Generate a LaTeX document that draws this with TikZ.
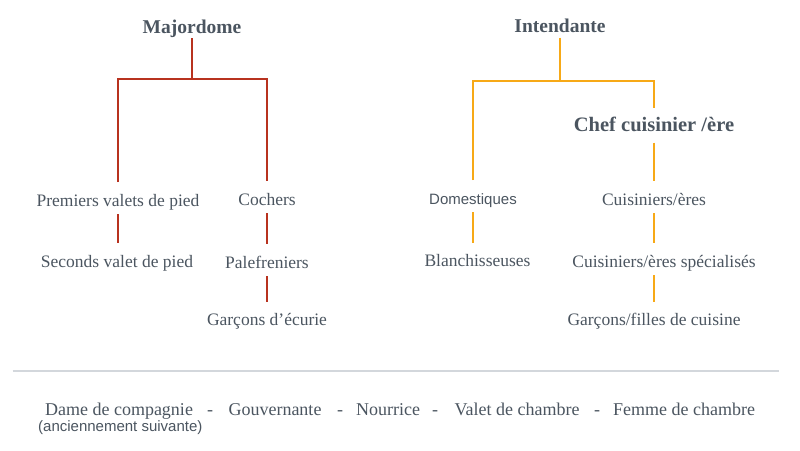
\documentclass[tikz,border=0pt]{standalone}
\usepackage{fontspec}
\setmainfont{Liberation Serif}
\newfontfamily\sansf{Liberation Sans}
\definecolor{txt}{HTML}{4B5560}
\definecolor{redl}{HTML}{B8321F}
\definecolor{orl}{HTML}{F7A917}
\definecolor{sepc}{HTML}{D3D7DC}
\begin{document}
\begin{tikzpicture}[x=1pt,y=-1pt,
  lbl/.style={inner sep=0pt, outer sep=0pt, anchor=base, text=txt,
    text height=24pt, text depth=8pt, font=\fontsize{17.5}{20}\selectfont},
  head/.style={lbl, text depth=5pt, font=\bfseries\fontsize{19.5}{22}\selectfont},
  sanslbl/.style={lbl, font=\sansf\fontsize{15}{18}\selectfont},
  bot/.style={inner sep=0pt, anchor=base, text=txt, font=\fontsize{18}{21}\selectfont},
  redline/.style={draw=redl, line width=2pt},
  orline/.style={draw=orl, line width=2pt}]
\useasboundingbox (0,0) rectangle (800,450);
\fill[white] (0,0) rectangle (800,450);

% left tree
\node[head] (maj) at (192,33.3) {Majordome};
\node[lbl] (pv) at (118,206) {Premiers valets de pied};
\node[lbl] (sv) at (117,267.3) {Seconds valet de pied};
\node[lbl] (co) at (267,205) {Cochers};
\node[lbl] (pa) at (267,268) {Palefreniers};
\node[lbl] (ge) at (267,325.7) {Garçons d’écurie};
\coordinate (mj) at (192,78.7);
\draw[redline] (maj.south) -- (mj);
\draw[redline] (pv.north) |- (mj) -| (co.north);
\draw[redline] (pv.south) -- (pv.south |- sv.north);
\draw[redline] (co.south) -- (pa.north);
\draw[redline] (pa.south) -- (ge.north);

% right tree
\node[head] (int) at (560,32.7) {Intendante};
\node[head, text depth=11pt, font=\bfseries\fontsize{20.5}{23}\selectfont] (ch) at (654,131.7) {Chef cuisinier /ère};
\node[sanslbl] (dom) at (473,204) {Domestiques};
\node[lbl] (bla) at (477.5,266.7) {Blanchisseuses};
\node[lbl] (cu) at (654,205) {Cuisiniers/ères};
\node[lbl] (spe) at (664,267) {Cuisiniers/ères spécialisés};
\node[lbl] (gf) at (654,325.7) {Garçons/filles de cuisine};
\coordinate (ij) at (560,80.7);
\draw[orline] (int.south) -- (ij);
\draw[orline] (dom.north) |- (ij) -| (ch.north);
\draw[orline] (ch.south) -- (cu.north);
\draw[orline] (dom.south) -- (dom.south |- bla.north);
\draw[orline] (cu.south) -- (cu.south |- spe.north);
\draw[orline] (gf.north |- spe.south) -- (gf.north);

% separator
\coordinate (sepL) at (12.7,371);
\coordinate (sepR) at (779,371);
\draw[sepc, line width=1.5pt] (sepL) -- (sepR);

% bottom line
\node[bot] (b1) at (119,415) {Dame de compagnie};
\node[bot] (d1) at (210,415) {-};
\node[bot] (b2) at (275,415) {Gouvernante};
\node[bot] (d2) at (340,415) {-};
\node[bot] (b3) at (388,415) {Nourrice};
\node[bot] (d3) at (435,415) {-};
\node[bot] (b4) at (517,415) {Valet de chambre};
\node[bot] (d4) at (597,415) {-};
\node[bot] (b5) at (684,415) {Femme de chambre};
\node[inner sep=0pt, anchor=base west, text=txt, font=\sansf\fontsize{15}{18}\selectfont] (anc) at (38,431) {(anciennement suivante)};
\end{tikzpicture}
\end{document}
